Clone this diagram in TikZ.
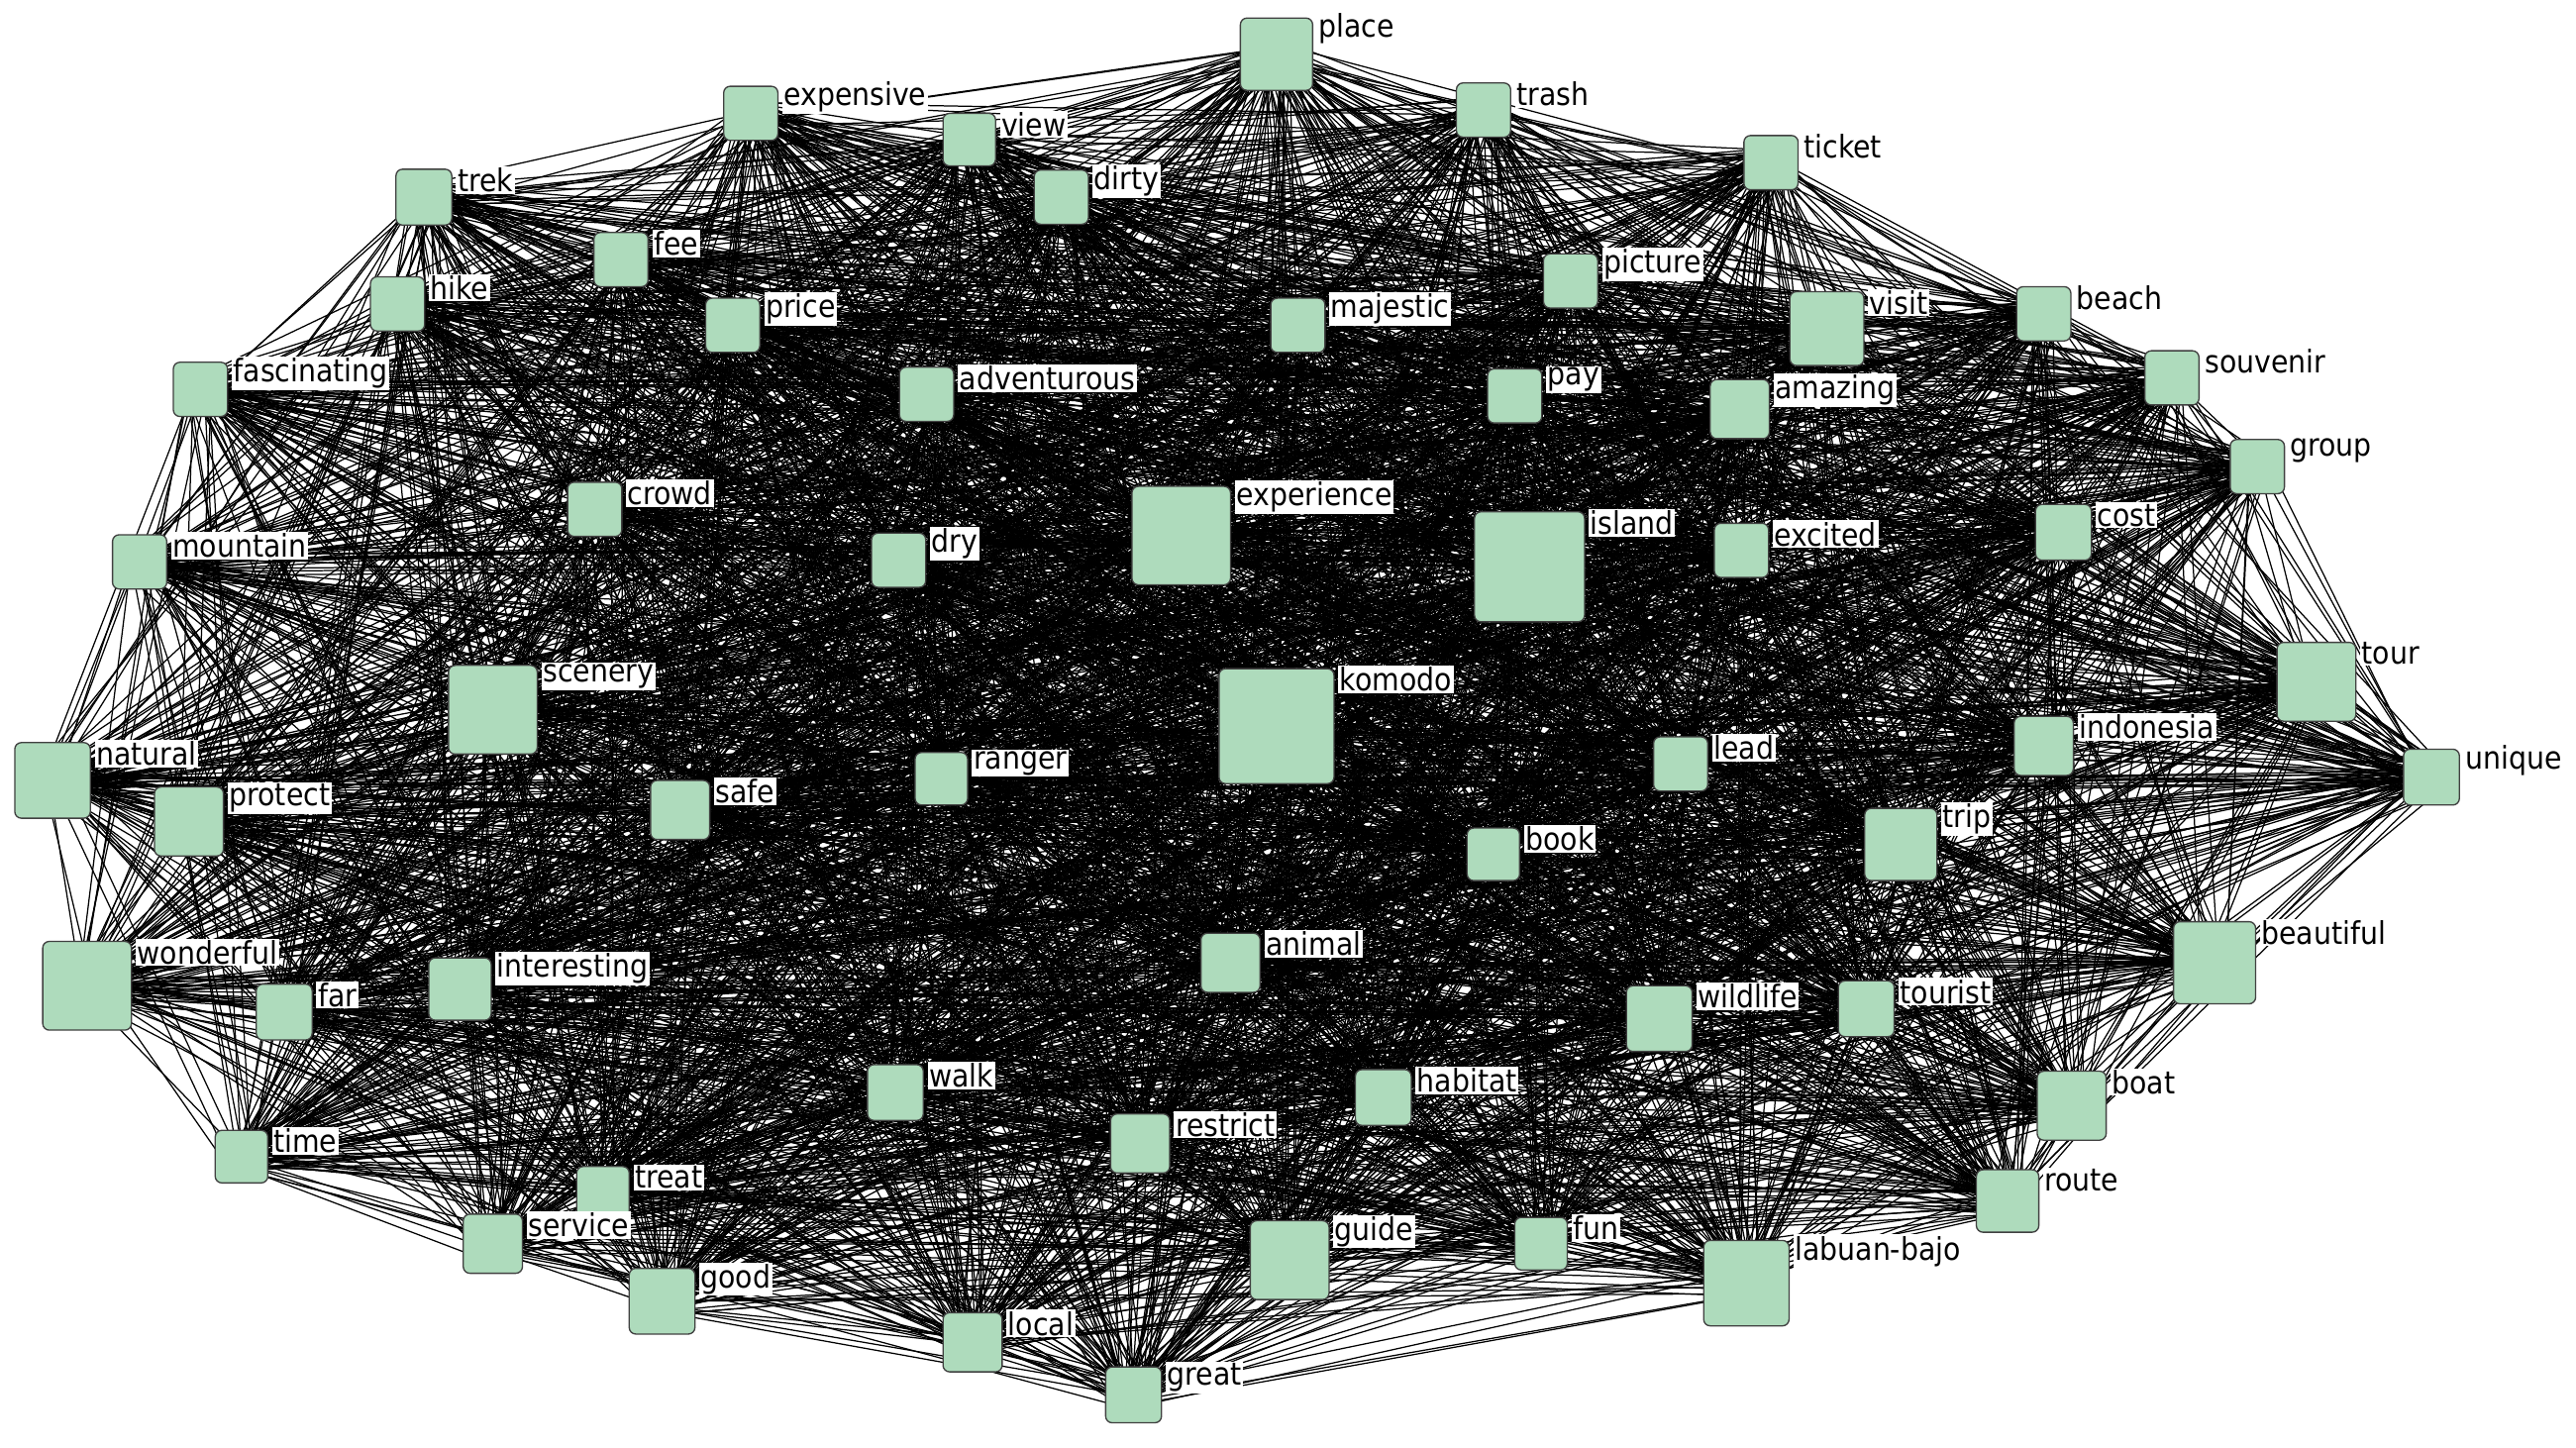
\documentclass[tikz,border=0pt]{standalone}
\usepackage{fontspec}
\setmainfont{DejaVu Sans Condensed}
\pgfdeclarelayer{background}
\pgfsetlayers{background,main}
\definecolor{nodegreen}{HTML}{AEDBBC}
\tikzset{
 wnode/.style={rectangle, draw=black!75, line width=0.8pt, fill=nodegreen, rounded corners=4pt, inner sep=0pt},
 wlabel/.style={fill=white, inner sep=1pt, anchor=west, font=\fontsize{19}{21}\selectfont, text=black},
 edgeline/.style={line width=0.75pt, draw=black}
}
\newcommand\wordnode[5]{%
 \node[wnode, minimum width=#4pt, minimum height=#4pt] (#1) at (#2,#3) {};
 \node[wlabel] (#1-l) at ([xshift=2pt,yshift=-7pt]#1.north east) {#5};
}
\begin{document}
\begin{tikzpicture}[x=1pt,y=-1pt]
\pgfmathsetseed{4242}
\useasboundingbox (0,0) rectangle (1568,881);
\wordnode{place}{777}{33}{44}{place}
\wordnode{trash}{903}{67}{33}{trash}
\wordnode{expensive}{457}{69}{33}{expensive}
\wordnode{view}{590}{85}{32}{view}
\wordnode{dirty}{646}{120}{33}{dirty}
\wordnode{ticket}{1078}{99}{33}{ticket}
\wordnode{trek}{258}{120}{34}{trek}
\wordnode{fee}{378}{158}{33}{fee}
\wordnode{hike}{242}{185}{33}{hike}
\wordnode{price}{446}{198}{33}{price}
\wordnode{majestic}{790}{198}{33}{majestic}
\wordnode{picture}{956}{171}{33}{picture}
\wordnode{visit}{1112}{200}{45}{visit}
\wordnode{beach}{1244}{191}{33}{beach}
\wordnode{souvenir}{1322}{230}{33}{souvenir}
\wordnode{fascinating}{122}{237}{33}{fascinating}
\wordnode{adventurous}{564}{240}{33}{adventurous}
\wordnode{pay}{922}{241}{33}{pay}
\wordnode{amazing}{1059}{249}{36}{amazing}
\wordnode{group}{1374}{284}{33}{group}
\wordnode{crowd}{362}{310}{33}{crowd}
\wordnode{mountain}{85}{342}{33}{mountain}
\wordnode{dry}{547}{341}{33}{dry}
\wordnode{experience}{719}{326}{60}{experience}
\wordnode{island}{931}{345}{67}{island}
\wordnode{excited}{1060}{335}{33}{excited}
\wordnode{cost}{1256}{324}{34}{cost}
\wordnode{tour}{1410}{415}{48}{tour}
\wordnode{scenery}{300}{432}{54}{scenery}
\wordnode{komodo}{777}{442}{70}{komodo}
\wordnode{natural}{32}{475}{46}{natural}
\wordnode{protect}{115}{500}{42}{protect}
\wordnode{safe}{414}{493}{36}{safe}
\wordnode{ranger}{573}{474}{32}{ranger}
\wordnode{lead}{1023}{465}{33}{lead}
\wordnode{indonesia}{1244}{454}{36}{indonesia}
\wordnode{unique}{1480}{473}{34}{unique}
\wordnode{book}{909}{520}{32}{book}
\wordnode{trip}{1157}{514}{44}{trip}
\wordnode{wonderful}{53}{600}{54}{wonderful}
\wordnode{far}{173}{616}{34}{far}
\wordnode{interesting}{280}{602}{38}{interesting}
\wordnode{animal}{749}{586}{36}{animal}
\wordnode{wildlife}{1010}{620}{40}{wildlife}
\wordnode{tourist}{1136}{614}{34}{tourist}
\wordnode{beautiful}{1348}{586}{50}{beautiful}
\wordnode{walk}{545}{665}{34}{walk}
\wordnode{habitat}{842}{668}{34}{habitat}
\wordnode{restrict}{694}{696}{36}{restrict}
\wordnode{boat}{1261}{673}{42}{boat}
\wordnode{time}{147}{704}{32}{time}
\wordnode{treat}{367}{726}{32}{treat}
\wordnode{route}{1222}{731}{38}{route}
\wordnode{service}{300}{757}{36}{service}
\wordnode{guide}{785}{767}{48}{guide}
\wordnode{fun}{938}{757}{32}{fun}
\wordnode{labuan-bajo}{1063}{781}{52}{labuan-bajo}
\wordnode{good}{403}{792}{40}{good}
\wordnode{local}{592}{817}{36}{local}
\wordnode{great}{690}{849}{34}{great}
\def\allnames{place,trash,expensive,view,dirty,ticket,trek,fee,hike,price,majestic,picture,visit,beach,souvenir,fascinating,adventurous,pay,amazing,group,crowd,mountain,dry,experience,island,excited,cost,tour,scenery,komodo,natural,protect,safe,ranger,lead,indonesia,unique,book,trip,wonderful,far,interesting,animal,wildlife,tourist,beautiful,walk,habitat,restrict,boat,time,treat,route,service,guide,fun,labuan-bajo,good,local,great}
\begin{pgfonlayer}{background}
\foreach \a [count=\i] in \allnames {
  \foreach \b [count=\j] in \allnames {
    \ifnum\j>\i
      \draw[edgeline] ([shift={(rand*9,rand*9)}]\a.center) -- ([shift={(rand*9,rand*9)}]\b.center);
      \draw[edgeline] ([shift={(rand*9,rand*9)}]\a.center) -- ([shift={(rand*9,rand*9)}]\b.center);
    \fi
  }
}
\end{pgfonlayer}
\end{tikzpicture}
\end{document}
